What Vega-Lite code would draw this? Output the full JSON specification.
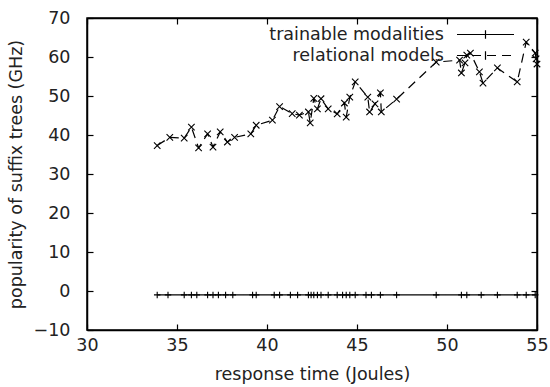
{
  "$schema": "https://vega.github.io/schema/vega-lite/v6.json",
  "width": 450,
  "height": 312,
  "autosize": {"type": "none"},
  "padding": {"left": 87, "top": 18, "right": 13, "bottom": 57},
  "background": "white",
  "config": {
    "view": {"stroke": "black", "strokeWidth": 1.5},
    "font": "DejaVu Sans",
    "axis": {
      "grid": false,
      "domainColor": "black",
      "domainWidth": 1.5,
      "tickColor": "black",
      "tickWidth": 1.2,
      "tickSize": -6,
      "labelFont": "DejaVu Sans",
      "labelFontSize": 17.5,
      "labelColor": "#222",
      "titleFont": "DejaVu Sans",
      "titleFontSize": 17.5,
      "titleFontWeight": "normal",
      "titleColor": "#222"
    }
  },
  "data": {
    "values": [
      {"series": "trainable modalities", "o": 1, "x": 33.9, "y": -1},
      {"series": "trainable modalities", "o": 2, "x": 34.5, "y": -1},
      {"series": "trainable modalities", "o": 3, "x": 35.4, "y": -1},
      {"series": "trainable modalities", "o": 4, "x": 35.8, "y": -1},
      {"series": "trainable modalities", "o": 5, "x": 36.1, "y": -1},
      {"series": "trainable modalities", "o": 6, "x": 36.7, "y": -1},
      {"series": "trainable modalities", "o": 7, "x": 37.0, "y": -1},
      {"series": "trainable modalities", "o": 8, "x": 37.3, "y": -1},
      {"series": "trainable modalities", "o": 9, "x": 37.7, "y": -1},
      {"series": "trainable modalities", "o": 10, "x": 38.1, "y": -1},
      {"series": "trainable modalities", "o": 11, "x": 39.2, "y": -1},
      {"series": "trainable modalities", "o": 12, "x": 39.4, "y": -1},
      {"series": "trainable modalities", "o": 13, "x": 40.4, "y": -1},
      {"series": "trainable modalities", "o": 14, "x": 40.7, "y": -1},
      {"series": "trainable modalities", "o": 15, "x": 41.3, "y": -1},
      {"series": "trainable modalities", "o": 16, "x": 41.7, "y": -1},
      {"series": "trainable modalities", "o": 17, "x": 42.3, "y": -1},
      {"series": "trainable modalities", "o": 18, "x": 42.45, "y": -1},
      {"series": "trainable modalities", "o": 19, "x": 42.6, "y": -1},
      {"series": "trainable modalities", "o": 20, "x": 42.8, "y": -1},
      {"series": "trainable modalities", "o": 21, "x": 43.0, "y": -1},
      {"series": "trainable modalities", "o": 22, "x": 43.4, "y": -1},
      {"series": "trainable modalities", "o": 23, "x": 43.9, "y": -1},
      {"series": "trainable modalities", "o": 24, "x": 44.2, "y": -1},
      {"series": "trainable modalities", "o": 25, "x": 44.4, "y": -1},
      {"series": "trainable modalities", "o": 26, "x": 44.6, "y": -1},
      {"series": "trainable modalities", "o": 27, "x": 44.9, "y": -1},
      {"series": "trainable modalities", "o": 28, "x": 45.5, "y": -1},
      {"series": "trainable modalities", "o": 29, "x": 45.8, "y": -1},
      {"series": "trainable modalities", "o": 30, "x": 46.3, "y": -1},
      {"series": "trainable modalities", "o": 31, "x": 47.2, "y": -1},
      {"series": "trainable modalities", "o": 32, "x": 49.4, "y": -1},
      {"series": "trainable modalities", "o": 33, "x": 50.8, "y": -1},
      {"series": "trainable modalities", "o": 34, "x": 51.1, "y": -1},
      {"series": "trainable modalities", "o": 35, "x": 51.9, "y": -1},
      {"series": "trainable modalities", "o": 36, "x": 52.8, "y": -1},
      {"series": "trainable modalities", "o": 37, "x": 53.9, "y": -1},
      {"series": "trainable modalities", "o": 38, "x": 54.4, "y": -1},
      {"series": "trainable modalities", "o": 39, "x": 54.9, "y": -1},
      {"series": "relational models", "o": 1, "x": 33.9, "y": 37.3},
      {"series": "relational models", "o": 2, "x": 34.6, "y": 39.4},
      {"series": "relational models", "o": 3, "x": 35.4, "y": 39.2},
      {"series": "relational models", "o": 4, "x": 35.8, "y": 42.0},
      {"series": "relational models", "o": 5, "x": 36.2, "y": 36.7},
      {"series": "relational models", "o": 6, "x": 36.7, "y": 40.3},
      {"series": "relational models", "o": 7, "x": 37.0, "y": 36.9},
      {"series": "relational models", "o": 8, "x": 37.4, "y": 40.8},
      {"series": "relational models", "o": 9, "x": 37.8, "y": 38.2},
      {"series": "relational models", "o": 10, "x": 38.2, "y": 39.4},
      {"series": "relational models", "o": 11, "x": 39.1, "y": 40.3},
      {"series": "relational models", "o": 12, "x": 39.4, "y": 42.5},
      {"series": "relational models", "o": 13, "x": 40.3, "y": 43.8},
      {"series": "relational models", "o": 14, "x": 40.7, "y": 47.3},
      {"series": "relational models", "o": 15, "x": 41.4, "y": 45.5},
      {"series": "relational models", "o": 16, "x": 41.8, "y": 45.1},
      {"series": "relational models", "o": 17, "x": 42.3, "y": 45.9},
      {"series": "relational models", "o": 18, "x": 42.4, "y": 43.1},
      {"series": "relational models", "o": 19, "x": 42.6, "y": 49.4},
      {"series": "relational models", "o": 20, "x": 42.8, "y": 46.7},
      {"series": "relational models", "o": 21, "x": 43.0, "y": 49.3},
      {"series": "relational models", "o": 22, "x": 43.4, "y": 46.7},
      {"series": "relational models", "o": 23, "x": 43.9, "y": 45.4},
      {"series": "relational models", "o": 24, "x": 44.3, "y": 48.2},
      {"series": "relational models", "o": 25, "x": 44.4, "y": 44.6},
      {"series": "relational models", "o": 26, "x": 44.6, "y": 49.7},
      {"series": "relational models", "o": 27, "x": 44.9, "y": 53.6},
      {"series": "relational models", "o": 28, "x": 45.6, "y": 49.7},
      {"series": "relational models", "o": 29, "x": 45.7, "y": 45.9},
      {"series": "relational models", "o": 30, "x": 46.0, "y": 48.0},
      {"series": "relational models", "o": 31, "x": 46.3, "y": 50.8},
      {"series": "relational models", "o": 32, "x": 46.35, "y": 45.9},
      {"series": "relational models", "o": 33, "x": 47.2, "y": 49.2},
      {"series": "relational models", "o": 34, "x": 49.4, "y": 58.7},
      {"series": "relational models", "o": 35, "x": 50.7, "y": 59.2},
      {"series": "relational models", "o": 36, "x": 50.8, "y": 55.9},
      {"series": "relational models", "o": 37, "x": 51.0, "y": 58.5},
      {"series": "relational models", "o": 38, "x": 51.1, "y": 60.5},
      {"series": "relational models", "o": 39, "x": 51.3, "y": 61.0},
      {"series": "relational models", "o": 40, "x": 51.8, "y": 56.2},
      {"series": "relational models", "o": 41, "x": 52.0, "y": 53.3},
      {"series": "relational models", "o": 42, "x": 52.8, "y": 57.2},
      {"series": "relational models", "o": 43, "x": 53.9, "y": 53.6},
      {"series": "relational models", "o": 44, "x": 54.4, "y": 63.8},
      {"series": "relational models", "o": 45, "x": 54.9, "y": 61.0},
      {"series": "relational models", "o": 46, "x": 54.95, "y": 59.5},
      {"series": "relational models", "o": 47, "x": 55.0, "y": 58.2}
    ]
  },
  "layer": [
    {
      "encoding": {
        "x": {"field": "x", "type": "quantitative", "scale": {"domain": [30, 55], "nice": false, "zero": false},
              "axis": {"values": [30, 35, 40, 45, 50, 55], "title": "response time (Joules)", "labelPadding": 12, "titlePadding": 12, "labelFlush": false}},
        "y": {"field": "y", "type": "quantitative", "scale": {"domain": [-10, 70], "nice": false, "zero": false},
              "axis": {"values": [-10, 0, 10, 20, 30, 40, 50, 60, 70], "title": "popularity of suffix trees  (GHz)", "labelPadding": 23, "titlePadding": 8, "labelFlush": false}}
      },
      "layer": [
        {
          "mark": {"type": "line", "color": "black", "strokeWidth": 1.2},
          "encoding": {
            "strokeDash": {"field": "series", "type": "nominal",
                           "scale": {"domain": ["trainable modalities", "relational models"], "range": [[1, 0], [9, 6]]},
                           "legend": {
                             "orient": "none", "legendX": 388, "legendY": 6, "padding": 0, "title": null,
                             "symbolType": "M-3,0L3,0M0,-0.45L0,0.45", "symbolSize": 361,
                             "symbolStrokeColor": "black", "symbolStrokeWidth": 1.2,
                             "labelAlign": "right", "labelOffset": -52, "labelLimit": 400,
                             "labelFont": "DejaVu Sans", "labelFontSize": 17.5, "labelColor": "#222",
                             "rowPadding": 2
                           }},
            "order": {"field": "o", "type": "quantitative"}
          }
        },
        {
          "transform": [{"filter": "datum.series === 'trainable modalities'"}],
          "mark": {"type": "point", "filled": false, "stroke": "black", "strokeWidth": 1.1, "size": 42, "opacity": 1, "shape": "M-1,0L1,0M0,-1L0,1"}
        }
      ]
    },
    {
      "transform": [{"filter": "datum.series === 'relational models'"}],
      "mark": {"type": "point", "filled": false, "stroke": "black", "strokeWidth": 1.1, "size": 42, "opacity": 1, "shape": "M-1,-1L1,1M-1,1L1,-1"},
      "encoding": {
        "x": {"field": "x", "type": "quantitative", "scale": {"domain": [30, 55]},
              "axis": {"values": [30, 35, 40, 45, 50, 55], "labels": false, "title": null}},
        "y": {"field": "y", "type": "quantitative", "scale": {"domain": [-10, 70]},
              "axis": {"values": [-10, 0, 10, 20, 30, 40, 50, 60, 70], "labels": false, "title": null}}
      }
    }
  ],
  "resolve": {"scale": {"x": "independent", "y": "independent"}}
}
